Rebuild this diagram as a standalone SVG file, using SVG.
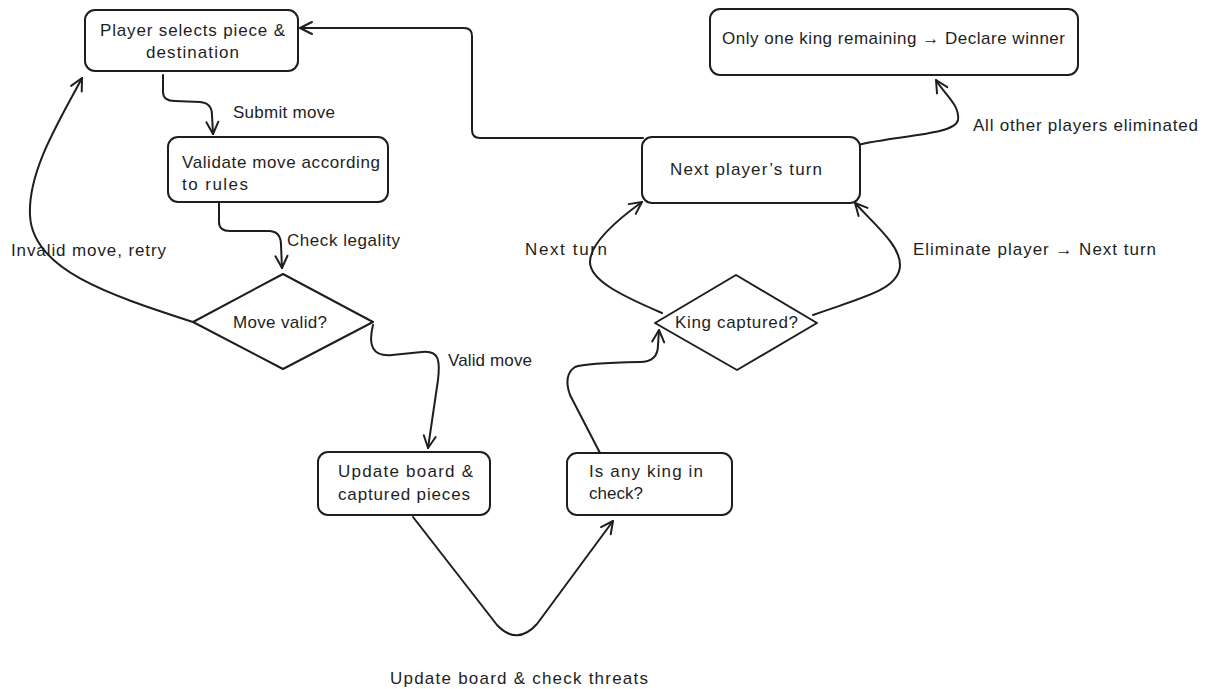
<svg xmlns="http://www.w3.org/2000/svg" width="1207" height="689" viewBox="0 0 1207 689">
  <style>
    .box { fill: #ffffff; stroke: #1e1e1e; stroke-width: 2; stroke-linejoin: round; }
    .edge { fill: none; stroke: #1e1e1e; stroke-width: 2; stroke-linecap: round; stroke-linejoin: round; }
    text { font-family: "Liberation Sans", Arial, sans-serif; font-size: 17px; fill: #1e1e1e; }
  </style>
  <defs>
    <marker id="arrow" markerUnits="userSpaceOnUse" markerWidth="16" markerHeight="16" viewBox="0 0 16 16" refX="14" refY="8" orient="auto">
      <path d="M2,2 L14,8 L2,14" fill="none" stroke="#1e1e1e" stroke-width="2" stroke-linecap="round" stroke-linejoin="round"/>
    </marker>
  </defs>
  <rect width="1207" height="689" fill="#ffffff"/>

  <g id="connectors">
    <path class="edge" d="M163,75 L163,92 Q163,101 175,101 L200,102 Q212,103 212,115 L213,134" marker-end="url(#arrow)"/>
    <path class="edge" d="M219,203 L219,222 Q219,231 230,231 L270,231 Q281,232 281,245 L282,268" marker-end="url(#arrow)"/>
    <path class="edge" d="M193,322 C110,295 32,270 30,215 C28,170 60,120 82,78" marker-end="url(#arrow)"/>
    <path class="edge" d="M373,325 C368,345 372,357 392,355 L422,352 C440,350 440,362 438,380 L428,448" marker-end="url(#arrow)"/>
    <path class="edge" d="M413,517 L497,625 Q517,646 537,624 L613,521" marker-end="url(#arrow)"/>
    <path class="edge" d="M600,453 L570,395 Q563,375 575,367 Q585,363 640,362 Q658,362 658,345 L659,330" marker-end="url(#arrow)"/>
    <path class="edge" d="M662,313 C620,295 590,280 590,262 C590,245 610,225 642,202" marker-end="url(#arrow)"/>
    <path class="edge" d="M813,315 C860,298 900,290 900,265 C900,245 875,225 855,203" marker-end="url(#arrow)"/>
    <path class="edge" d="M857,145 C900,135 955,135 958,120 C960,105 945,95 936,80" marker-end="url(#arrow)"/>
    <path class="edge" d="M643,138 H480 Q472,138 472,130 V36 Q472,28 464,28 H300" marker-end="url(#arrow)"/>
    <text x="233" y="118" textLength="102">Submit move</text>
    <text x="287" y="246" textLength="113">Check legality</text>
    <text x="11" y="256" textLength="155">Invalid move, retry</text>
    <text x="448" y="366" textLength="84">Valid move</text>
    <text x="390" y="684" textLength="258">Update board &amp; check threats</text>
    <text x="525" y="255" textLength="82">Next turn</text>
    <text x="913" y="255" textLength="243">Eliminate player → Next turn</text>
    <text x="973" y="131" textLength="225">All other players eliminated</text>
  </g>

  <g id="node-select">
    <rect class="box" x="85" y="10" width="213" height="61" rx="10"/>
    <text x="100" y="36" textLength="185">Player selects piece &amp;</text>
    <text x="146" y="58" textLength="93">destination</text>
  </g>

  <g id="node-validate">
    <rect class="box" x="168" y="137" width="220" height="65" rx="10"/>
    <text x="182" y="168" textLength="198">Validate move according</text>
    <text x="182" y="190" textLength="66">to rules</text>
  </g>

  <g id="node-move-valid">
    <path class="box" d="M283,274 L373,322 L283,369 L193,322 Z"/>
    <text x="233" y="328" textLength="94">Move valid?</text>
  </g>

  <g id="node-update">
    <rect class="box" x="318" y="452" width="172" height="63" rx="10"/>
    <text x="338" y="477" textLength="135">Update board &amp;</text>
    <text x="338" y="500" textLength="132">captured pieces</text>
  </g>

  <g id="node-check">
    <rect class="box" x="567" y="453" width="165" height="62" rx="10"/>
    <text x="589" y="477" textLength="114">Is any king in</text>
    <text x="589" y="499" textLength="54">check?</text>
  </g>

  <g id="node-king-captured">
    <path class="box" d="M736,275 L817,323 L737,370 L655,323 Z"/>
    <text x="675" y="328" textLength="123">King captured?</text>
  </g>

  <g id="node-next-player">
    <rect class="box" x="642" y="137" width="218" height="66" rx="10"/>
    <text x="670" y="175" textLength="152">Next player’s turn</text>
  </g>

  <g id="node-winner">
    <rect class="box" x="710" y="9" width="368" height="66" rx="10"/>
    <text x="722" y="44" textLength="343">Only one king remaining → Declare winner</text>
  </g>
</svg>
